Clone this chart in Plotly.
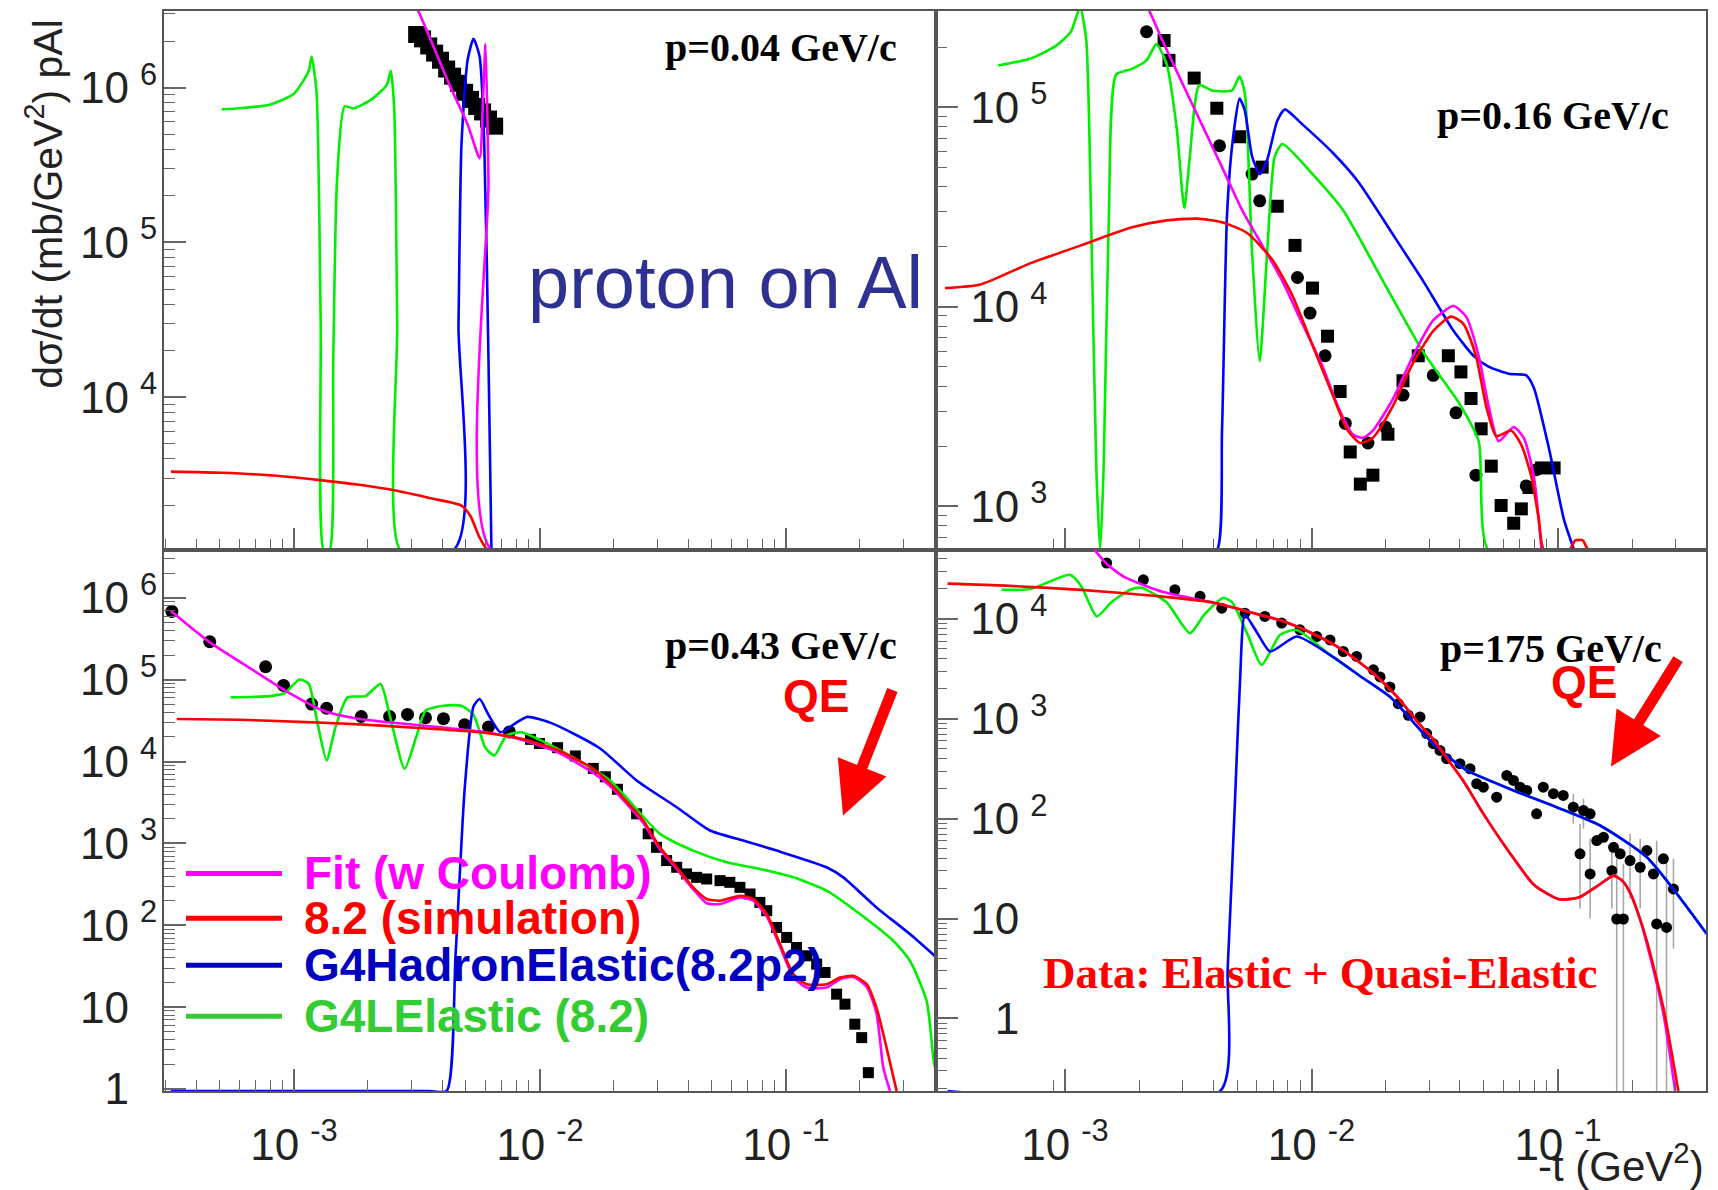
import numpy as np
import plotly.graph_objects as go

W, H = 1718, 1190
ML, MR, MT, MB = 164, 12, 9, 99
XMID, YMID = 936, 549
PW, PH = W - ML - MR, H - MT - MB


def px(x):
    return (x - ML) / PW


def py(y):
    return (H - MB - y) / PH


# ---------------- data (log10 of -t [GeV^2] and log10 of dsigma/dt [mb/GeV^2]) ----------------
# Top-left: p = 0.04 GeV/c
tl_data_lt = [-2.501, -2.477, -2.452, -2.428, -2.404, -2.379, -2.355, -2.331, -2.306, -2.282, -2.257, -2.233, -2.209, -2.184]
tl_data_ly = [6.343, 6.315, 6.269, 6.223, 6.177, 6.12, 6.074, 6.028, 5.97, 5.924, 5.878, 5.843, 5.797, 5.751]
tl_fit_lt = [-2.52, -2.496, -2.367, -2.294, -2.245, -2.233, -2.221, -2.209, -2.197, -1.368]
tl_fit_ly = [6.56, 6.5, 6.016, 5.763, 5.544, 5.855, 6.28, 5.395, 3.013, 3.013]
tl_sim_lt = [-3.5, -3.293, -3.098, -2.903, -2.733, -2.587, -2.44, -2.319, -2.282, -2.245, -2.216, -2.197, -1.368]
tl_sim_ly = [3.519, 3.512, 3.496, 3.466, 3.434, 3.397, 3.346, 3.3, 3.231, 3.093, 3.02, 3.013, 3.013]
tl_had_lt = [-3.513, -2.35, -2.331, -2.319, -2.294, -2.27, -2.245, -2.226, -2.209, -2.197]
tl_had_ly = [3.013, 3.013, 4.47, 5.625, 6.177, 6.315, 6.2, 5.625, 4.24, 3.013]
tl_lel_lt = [-3.293, -3.22, -3.099, -3.0, -2.94, -2.928, -2.908, -2.891, -2.879, -2.855, -2.84, -2.825, -2.794,
             -2.757, -2.684, -2.623, -2.606, -2.592, -2.58, -2.567, -2.35]
tl_lel_ly = [5.86, 5.867, 5.89, 5.96, 6.108, 6.2, 5.97, 4.47, 3.013, 3.013, 4.24, 5.39, 5.878,
             5.866, 5.924, 6.016, 6.108, 5.855, 4.47, 3.013, 3.013]

# Top-right: p = 0.16 GeV/c
tr_circ_lt = [-2.669, -2.373, -2.241, -2.21, -2.057, -2.006, -1.945, -1.863, -1.771, -1.7, -1.629, -1.506, -1.414, -1.333, -1.129, -1.088]
tr_circ_ly = [5.378, 4.807, 4.665, 4.531, 4.147, 3.969, 3.755, 3.416, 3.318, 3.398, 3.558, 3.657, 3.469, 3.157, 3.103, 3.184]
tr_sq_lt = [-2.598, -2.578, -2.476, -2.384, -2.292, -2.2, -2.139, -2.067, -1.996, -1.935, -1.884, -1.843, -1.802, -1.751,
            -1.69, -1.629, -1.567, -1.445, -1.394, -1.353, -1.312, -1.271, -1.231, -1.18, -1.149, -1.118, -1.067, -1.016]
tr_sq_ly = [5.334, 5.235, 5.146, 4.995, 4.852, 4.7, 4.504, 4.308, 4.094, 3.853, 3.576, 3.273, 3.112, 3.157,
            3.362, 3.63, 3.755, 3.755, 3.674, 3.541, 3.389, 3.202, 3.005, 2.916, 2.988, 3.095, 3.193, 3.193]
tr_fit_lt = [-2.7, -2.659, -2.608, -2.527, -2.445, -2.363, -2.282, -2.2, -2.118, -2.037, -1.955, -1.894, -1.833, -1.792,
             -1.751, -1.669, -1.588, -1.506, -1.424, -1.373, -1.322, -1.282, -1.241, -1.18, -1.139, -1.098, -1.067]
tr_fit_ly = [5.56, 5.485, 5.343, 5.128, 4.914, 4.7, 4.486, 4.308, 4.129, 3.915, 3.701, 3.505, 3.362, 3.344,
             3.38, 3.54, 3.755, 3.933, 4.004, 3.951, 3.755, 3.505, 3.327, 3.398, 3.344, 3.148, 2.782]
tr_sim_lt = [-3.486, -3.343, -3.139, -2.935, -2.731, -2.588, -2.465, -2.363, -2.261, -2.159, -2.078, -1.996, -1.914,
             -1.853, -1.802, -1.751, -1.669, -1.588, -1.506, -1.435, -1.384, -1.333, -1.292, -1.251, -1.19, -1.149,
             -1.108, -1.078, -1.057, -0.955, -0.93, -0.9, -0.875, -0.39]
tr_sim_ly = [4.094, 4.112, 4.219, 4.308, 4.397, 4.433, 4.442, 4.424, 4.37, 4.236, 4.058, 3.808, 3.558,
             3.38, 3.318, 3.344, 3.505, 3.719, 3.88, 3.951, 3.915, 3.755, 3.505, 3.353, 3.38, 3.309,
             3.148, 2.934, 2.782, 2.782, 2.83, 2.83, 2.782, 2.782]
tr_had_lt = [-3.486, -2.455, -2.384, -2.363, -2.343, -2.322, -2.292, -2.271, -2.241, -2.21, -2.18, -2.139, -2.108,
             -2.037, -1.914, -1.812, -1.669, -1.547, -1.424, -1.343, -1.282, -1.2, -1.129, -1.098, -1.037, -0.976, -0.935]
tr_had_ly = [2.782, 2.782, 2.782, 3.38, 4.45, 4.807, 5.043, 4.986, 4.754, 4.665, 4.736, 4.932, 4.989,
             4.914, 4.772, 4.629, 4.361, 4.129, 3.88, 3.755, 3.701, 3.665, 3.657, 3.594, 3.291, 2.934, 2.782]
tr_lel_lt = [-3.271, -3.139, -3.037, -2.976, -2.939, -2.914, -2.894, -2.873, -2.857, -2.843, -2.822, -2.792, -2.731,
             -2.669, -2.629, -2.588, -2.547, -2.516, -2.496, -2.455, -2.404, -2.322, -2.292, -2.271, -2.241, -2.21,
             -2.18, -2.149, -2.118, -1.996, -1.873, -1.71, -1.547, -1.404, -1.322, -1.282, -0.96]
tr_lel_ly = [5.209, 5.244, 5.307, 5.378, 5.5, 5.343, 4.45, 3.2, 2.782, 3.2, 4.45, 5.164, 5.191,
             5.235, 5.316, 5.218, 4.897, 4.495, 4.718, 5.111, 5.084, 5.084, 5.155, 5.075, 4.272, 3.728,
             4.272, 4.754, 4.816, 4.665, 4.486, 4.129, 3.773, 3.523, 3.327, 2.782, 2.782]

# Bottom-left: p = 0.43 GeV/c
bl_circ_lt = [-3.496, -3.342, -3.115, -3.042, -2.928, -2.867, -2.726, -2.611, -2.538, -2.465, -2.392, -2.306, -2.209, -2.124]
bl_circ_ly = [5.835, 5.464, 5.159, 4.931, 4.703, 4.652, 4.551, 4.551, 4.576, 4.536, 4.525, 4.449, 4.423, 4.363]
bl_sq_lt = [-2.038, -2.002, -1.928, -1.856, -1.783, -1.734, -1.685, -1.607, -1.56, -1.526, -1.485, -1.444, -1.404,
            -1.363, -1.322, -1.268, -1.228, -1.187, -1.146, -1.106, -1.078, -1.038, -0.997, -0.957, -0.916, -0.875,
            -0.841, -0.794, -0.76, -0.72, -0.692, -0.665]
bl_sq_ly = [4.272, 4.221, 4.17, 4.069, 3.917, 3.815, 3.662, 3.362, 3.118, 2.953, 2.791, 2.709, 2.628,
            2.586, 2.566, 2.546, 2.525, 2.464, 2.383, 2.28, 2.179, 1.974, 1.852, 1.729, 1.628, 1.526,
            1.424, 1.159, 1.037, 0.792, 0.628, 0.2]
bl_fit_lt = [-3.5, -3.343, -3.172, -3.025, -2.879, -2.733, -2.49, -2.246, -2.075, -1.929, -1.783, -1.715, -1.58,
             -1.512, -1.444, -1.377, -1.322, -1.268, -1.187, -1.133, -1.078, -1.024, -0.97, -0.916, -0.835, -0.78,
             -0.726, -0.672, -0.632, -0.604, -0.577]
bl_fit_ly = [5.839, 5.459, 5.129, 4.85, 4.622, 4.521, 4.445, 4.369, 4.268, 4.116, 3.862, 3.7, 3.25,
             2.93, 2.69, 2.44, 2.27, 2.26, 2.34, 2.3, 2.11, 1.74, 1.37, 1.24, 1.24, 1.34,
             1.37, 1.25, 0.93, 0.26, -0.024]
bl_sim_lt = [-3.476, -3.22, -2.977, -2.733, -2.49, -2.246, -2.075, -1.929, -1.783, -1.715, -1.58, -1.512, -1.444,
             -1.377, -1.322, -1.268, -1.187, -1.133, -1.078, -1.024, -0.97, -0.916, -0.835, -0.78, -0.726, -0.672,
             -0.632, -0.591, -0.55]
bl_sim_ly = [4.521, 4.511, 4.485, 4.455, 4.41, 4.359, 4.278, 4.141, 3.913, 3.73, 3.28, 2.953, 2.709,
             2.464, 2.322, 2.301, 2.362, 2.322, 2.138, 1.771, 1.404, 1.281, 1.281, 1.362, 1.383, 1.281,
             0.995, 0.506, -0.024]
bl_had_lt = [-3.5, -2.452, -2.379, -2.343, -2.306, -2.27, -2.245, -2.209, -2.16, -2.099, -2.051, -1.953, -1.758,
             -1.607, -1.444, -1.309, -1.173, -1.038, -0.835, -0.767, -0.632, -0.496, -0.388]
bl_had_ly = [-0.024, -0.024, -0.024, 1.632, 3.659, 4.673, 4.764, 4.572, 4.359, 4.47, 4.546, 4.47, 4.166,
             3.77, 3.443, 3.158, 3.036, 2.913, 2.709, 2.586, 2.219, 1.893, 1.607]
bl_lel_lt = [-3.257, -3.099, -3.038, -2.977, -2.94, -2.904, -2.867, -2.831, -2.782, -2.709, -2.648, -2.611, -2.55,
             -2.501, -2.465, -2.392, -2.319, -2.27, -2.221, -2.185, -2.136, -2.075, -2.002, -1.904, -1.715, -1.512,
             -1.377, -1.241, -1.106, -0.97, -0.835, -0.699, -0.564, -0.496, -0.428, -0.401, -0.39]
bl_lel_ly = [4.785, 4.8, 4.835, 5.002, 4.952, 4.47, 4.014, 4.419, 4.785, 4.8, 4.952, 4.572, 3.913,
             4.318, 4.622, 4.683, 4.683, 4.572, 4.166, 4.075, 4.318, 4.359, 4.268, 4.116, 3.77, 3.117,
             2.913, 2.77, 2.689, 2.586, 2.424, 2.138, 1.811, 1.567, 1.077, 0.383, 0.2]

# Bottom-right: p = 175 GeV/c (elastic + quasi-elastic data)
br_circ_lt = [-2.831, -2.682, -2.554, -2.452, -2.364, -2.27, -2.189, -2.121, -2.047, -1.979, -1.925, -1.871, -1.817,
              -1.749, -1.722, -1.682, -1.648, -1.607, -1.56, -1.533, -1.506, -1.479, -1.452, -1.398, -1.357, -1.33,
              -1.303, -1.249, -1.208, -1.181, -1.154, -1.127, -1.087, -1.06, -1.019, -0.979, -0.938, -0.897, -0.87,
              -0.911, -0.87, -0.843, -0.816, -0.782, -0.775, -0.748, -0.708, -0.667, -0.64, -0.613, -0.573, -0.532,
              -0.762, -0.735, -0.6, -0.56]
br_circ_ly = [4.56, 4.392, 4.292, 4.226, 4.108, 4.058, 4.025, 3.958, 3.891, 3.824, 3.79, 3.674, 3.624,
              3.49, 3.419, 3.319, 3.152, 3.035, 3.018, 2.852, 2.751, 2.684, 2.601, 2.551, 2.5, 2.35,
              2.316, 2.216, 2.433, 2.383, 2.316, 2.283, 2.049, 2.316, 2.25, 2.233, 2.115, 2.082, 2.049,
              1.648, 1.447, 1.781, 1.814, 1.48, 1.714, 1.648, 1.581, 1.514, 1.681, 1.447, 1.598, 1.297,
              0.996, 0.996, 0.946, 0.912]
# error-bar ends (log10) for the quasi-elastic tail points
br_err_lt = [-0.938, -0.897, -0.911, -0.87, -0.782, -0.762, -0.735, -0.708, -0.667, -0.6, -0.56, -0.532]
br_err_hi = [2.25, 2.2, 1.95, 1.8, 1.75, 1.6, 1.55, 1.85, 1.8, 1.78, 1.65, 1.6]
br_err_lo = [1.95, 1.9, 1.1, 1.0, 1.1, -1.5, -1.5, 1.2, 1.1, -1.5, -1.5, 0.7]
br_fit_lt = [-2.9, -2.83, -2.76, -2.683, -2.602, -2.404, -2.241, -2.118, -1.996, -1.873, -1.751, -1.649, -1.567,
             -1.506, -1.445, -1.384, -1.302, -1.2, -1.098, -0.996, -0.914, -0.833, -0.775, -0.74, -0.708, -0.675,
             -0.64, -0.573, -0.525]
br_fit_ly = [4.75, 4.55, 4.42, 4.34, 4.27, 4.166, 4.062, 3.979, 3.854, 3.688, 3.459, 3.21, 2.96,
             2.794, 2.586, 2.378, 2.046, 1.672, 1.339, 1.193, 1.214, 1.339, 1.43, 1.38, 1.26, 1.05,
             0.75, 0.05, -0.726]
br_sim_lt = [-3.476, -3.241, -2.935, -2.629, -2.404, -2.241, -2.118, -1.996, -1.873, -1.751, -1.649, -1.567, -1.506,
             -1.445, -1.384, -1.302, -1.2, -1.098, -0.996, -0.914, -0.833, -0.775, -0.74, -0.708, -0.675, -0.64,
             -0.573, -0.512]
br_sim_ly = [4.353, 4.333, 4.291, 4.229, 4.166, 4.062, 3.979, 3.854, 3.688, 3.459, 3.21, 2.96, 2.794,
             2.586, 2.378, 2.046, 1.672, 1.339, 1.193, 1.214, 1.339, 1.43, 1.38, 1.26, 1.05, 0.778,
             0.109, -0.726]
br_had_lt = [-3.476, -2.37, -2.34, -2.31, -2.29, -2.27, -2.22, -2.168, -2.06, -1.925, -1.79, -1.682, -1.52,
             -1.452, -1.37, -1.181, -1.006, -0.83, -0.64, -0.397]
br_had_ly = [-0.726, -0.726, 0.5, 2.2, 3.376, 4.04, 3.86, 3.674, 3.824, 3.64, 3.406, 3.22, 2.784,
             2.634, 2.483, 2.283, 2.115, 1.932, 1.614, 0.846]
br_lel_lt = [-3.257, -3.139, -2.98, -2.935, -2.871, -2.812, -2.736, -2.69, -2.588, -2.493, -2.435, -2.358, -2.322,
             -2.261, -2.202, -2.128, -2.06, -1.925, -1.79, -1.682, -1.52, -1.452, -1.37, -1.181, -1.006, -0.83,
             -0.64, -0.397]
br_lel_ly = [4.292, 4.299, 4.442, 4.333, 4.025, 4.166, 4.292, 4.312, 4.166, 3.857, 4.042, 4.209, 4.166,
             3.854, 3.54, 3.84, 3.89, 3.64, 3.406, 3.22, 2.784, 2.634, 2.483, 2.283, 2.115, 1.932,
             1.614, 0.846]

# legend / labels
legend_names = ["Fit (w Coulomb)", "8.2 (simulation)", "G4HadronElastic(8.2p2)", "G4LElastic (8.2)"]
legend_text_colors = ["#ff00ff", "#ff0000", "#0000c0", "#33cc33"]
curve_colors = {"fit": "#ff00ff", "sim": "#ff0000", "had": "#0000ff", "lel": "#00ee00"}
panel_labels = ["p=0.04 GeV/c", "p=0.16 GeV/c", "p=0.43 GeV/c", "p=175 GeV/c"]
x_tickvals = [1e-3, 1e-2, 1e-1]
x_ticktext = ["10\u2005<sup>-3</sup>", "10\u2005<sup>-2</sup>", "10\u2005<sup>-1</sup>"]

# ---------------- figure ----------------
fig = go.Figure()


def P(v):
    return (10.0 ** np.array(v, dtype=float)).tolist()


def curve(lt, ly, key, ax):
    fig.add_trace(go.Scatter(x=P(lt), y=P(ly), mode="lines", xaxis="x" + ax, yaxis="y" + ax,
                             line=dict(color=curve_colors[key], width=2.6, shape="spline", smoothing=0.6),
                             showlegend=False, hoverinfo="skip"))


def points(lt, ly, symbol, size, ax):
    fig.add_trace(go.Scatter(x=P(lt), y=P(ly), mode="markers", xaxis="x" + ax, yaxis="y" + ax,
                             marker=dict(symbol=symbol, size=size, color="black"),
                             showlegend=False))


# error bars (vertical segments in data space)
eb_x, eb_y = [], []
for t, lo, hi in zip(br_err_lt, br_err_lo, br_err_hi):
    eb_x += [10 ** t, 10 ** t, None]
    eb_y += [10 ** lo, 10 ** hi, None]
fig.add_trace(go.Scatter(x=eb_x, y=eb_y, mode="lines", xaxis="x4", yaxis="y4",
                         line=dict(color="#a8a8a8", width=1.6), showlegend=False, hoverinfo="skip"))

points(tl_data_lt, tl_data_ly, "square", 17, "")
points(tr_circ_lt, tr_circ_ly, "circle", 13, "2")
points(tr_sq_lt, tr_sq_ly, "square", 13, "2")
points(bl_circ_lt, bl_circ_ly, "circle", 13, "3")
points(bl_sq_lt, bl_sq_ly, "square", 11, "3")
points(br_circ_lt, br_circ_ly, "circle", 11, "4")

for ax, sets in [("", (tl_lel_lt, tl_lel_ly, tl_had_lt, tl_had_ly, tl_fit_lt, tl_fit_ly, tl_sim_lt, tl_sim_ly)),
                 ("2", (tr_lel_lt, tr_lel_ly, tr_had_lt, tr_had_ly, tr_fit_lt, tr_fit_ly, tr_sim_lt, tr_sim_ly)),
                 ("3", (bl_lel_lt, bl_lel_ly, bl_had_lt, bl_had_ly, bl_fit_lt, bl_fit_ly, bl_sim_lt, bl_sim_ly)),
                 ("4", (br_lel_lt, br_lel_ly, br_had_lt, br_had_ly, br_fit_lt, br_fit_ly, br_sim_lt, br_sim_ly))]:
    curve(sets[0], sets[1], "lel", ax)
    curve(sets[2], sets[3], "had", ax)
    curve(sets[4], sets[5], "fit", ax)
    curve(sets[6], sets[7], "sim", ax)

minor_vals = [k * 10.0 ** n for n in range(-5, 8) for k in range(2, 10)]
FRAME = "#555555"
TICKC = "#666666"
TICKFONT = dict(family="Liberation Sans, Arial, sans-serif", size=44, color="#222222")

xdom_l = [0, px(XMID)]
xdom_r = [px(XMID), 1]
ydom_t = [py(YMID), 1]
ydom_b = [0, py(YMID)]


def xaxis(dom, rng, anchor, labels):
    return dict(type="log", domain=dom, range=rng, anchor=anchor, showline=True, mirror=True,
                linecolor=FRAME, linewidth=2, ticks="inside", ticklen=22, tickwidth=1.5, tickcolor=TICKC,
                tickmode="array", tickvals=x_tickvals, ticktext=x_ticktext, showticklabels=labels,
                tickfont=TICKFONT, ticklabelstandoff=14,
                minor=dict(tickmode="array", tickvals=minor_vals, ticks="inside", ticklen=11,
                           tickwidth=1.2, tickcolor=TICKC, showgrid=False),
                showgrid=False, zeroline=False)


def yaxis(dom, rng, anchor, vals, texts, inside):
    d = dict(type="log", domain=dom, range=rng, anchor=anchor, showline=True, mirror=True,
             linecolor=FRAME, linewidth=2, ticks="inside", ticklen=22, tickwidth=1.5, tickcolor=TICKC,
             tickmode="array", tickvals=vals, ticktext=texts, tickfont=TICKFONT,
             minor=dict(tickmode="array", tickvals=minor_vals, ticks="inside", ticklen=11,
                        tickwidth=1.2, tickcolor=TICKC, showgrid=False),
             showgrid=False, zeroline=False)
    if inside:
        d["ticklabelposition"] = "inside"
        d["ticklabelstandoff"] = 18
    else:
        d["ticklabelstandoff"] = -4
    return d


E = "\u2005"
FS = "\u2007"
fig.update_layout(
    width=W, height=H, margin=dict(l=ML, r=MR, t=MT, b=MB),
    paper_bgcolor="white", plot_bgcolor="white", showlegend=False,
    xaxis=xaxis(xdom_l, [-3.528, -0.39], "y", False),
    xaxis2=xaxis(xdom_r, [-3.523, -0.40], "y2", False),
    xaxis3=xaxis(xdom_l, [-3.528, -0.39], "y3", True),
    xaxis4=xaxis(xdom_r, [-3.523, -0.40], "y4", True),
    yaxis=yaxis(ydom_t, [3.013, 6.495], "x", [1e4, 1e5, 1e6],
                ["10" + E + "<sup>4</sup>", "10" + E + "<sup>5</sup>", "10" + E + "<sup>6</sup>"], False),
    yaxis2=yaxis(ydom_t, [2.782, 5.482], "x2", [1e3, 1e4, 1e5],
                 ["10" + E + "<sup>3</sup>", "10" + E + "<sup>4</sup>", "10" + E + "<sup>5</sup>"], True),
    yaxis3=yaxis(ydom_b, [-0.024, 6.585], "x3", [1, 10, 1e2, 1e3, 1e4, 1e5, 1e6],
                 [FS + "1" + E + "<sup>" + FS + "</sup>", "10" + E + "<sup>" + FS + "</sup>"] +
                 ["10" + E + "<sup>%d</sup>" % k for k in range(2, 7)], False),
    yaxis4=yaxis(ydom_b, [-0.726, 4.69], "x4", [1, 10, 1e2, 1e3, 1e4],
                 [FS + "1", "10"] + ["10" + E + "<sup>%d</sup>" % k for k in range(2, 5)], True),
)

SERIF = "Liberation Serif, Times New Roman, serif"
SANS = "Liberation Sans, Arial, sans-serif"
ann = []
# panel momentum labels
for txt, xr, yc in zip(panel_labels, [899, 1671, 899, 1664], [46, 114, 645, 648]):
    ann.append(dict(text="<b>%s</b>" % txt, x=px(xr), y=py(yc), xref="paper", yref="paper",
                    xanchor="right", yanchor="middle", showarrow=False,
                    font=dict(family=SERIF, size=40, color="black")))
ann.append(dict(text="proton on Al", x=px(725), y=py(281), xref="paper", yref="paper",
                xanchor="center", yanchor="middle", showarrow=False,
                font=dict(family=SANS, size=74, color="#2e3192")))
for cx, cy in [(816, 695), (1584, 681)]:
    ann.append(dict(text="<b>QE</b>", x=px(cx), y=py(cy), xref="paper", yref="paper",
                    xanchor="center", yanchor="middle", showarrow=False,
                    font=dict(family=SANS, size=46, color="#ff0000")))
for (tx, ty), (sx, sy) in [((843, 815), (893, 688)), ((1611, 766), (1679, 657))]:
    ann.append(dict(text="", x=px(tx), y=py(ty), xref="paper", yref="paper",
                    ax=sx - tx, ay=sy - ty, axref="pixel", ayref="pixel", showarrow=True,
                    arrowhead=2, arrowsize=0.95, arrowwidth=11, arrowcolor="#ff0000", standoff=0))
ann.append(dict(text="<b>Data: Elastic + Quasi-Elastic</b>", x=px(1320), y=py(973), xref="paper", yref="paper",
                xanchor="center", yanchor="middle", showarrow=False,
                font=dict(family=SERIF, size=45, color="#ff0000")))
ann.append(dict(text="d\u03c3/dt (mb/GeV<sup>2</sup>) pAl", x=px(44), y=py(203), xref="paper", yref="paper",
                xanchor="center", yanchor="middle", textangle=-90, showarrow=False,
                font=dict(family=SANS, size=41, color="#222222")))
ann.append(dict(text="-t (GeV<sup>2</sup>)", x=px(1621), y=py(1163), xref="paper", yref="paper",
                xanchor="center", yanchor="middle", showarrow=False,
                font=dict(family=SANS, size=42, color="#222222")))

# legend
shapes = []
for name, tcol, lcol, yc in zip(legend_names, legend_text_colors,
                                [curve_colors["fit"], curve_colors["sim"], "#0000c0", "#33cc33"],
                                [873, 918, 965, 1016]):
    shapes.append(dict(type="line", xref="paper", yref="paper", x0=px(186), x1=px(282), y0=py(yc), y1=py(yc),
                       line=dict(color=lcol, width=5)))
    ann.append(dict(text="<b>%s</b>" % name, x=px(302), y=py(yc), xref="paper", yref="paper",
                    xanchor="left", yanchor="middle", showarrow=False,
                    font=dict(family=SANS, size=46, color=tcol)))

fig.update_layout(annotations=ann, shapes=shapes)
fig.write_html("out.html", config={"displayModeBar": False},
               post_script="document.body.style.margin='0px';")
